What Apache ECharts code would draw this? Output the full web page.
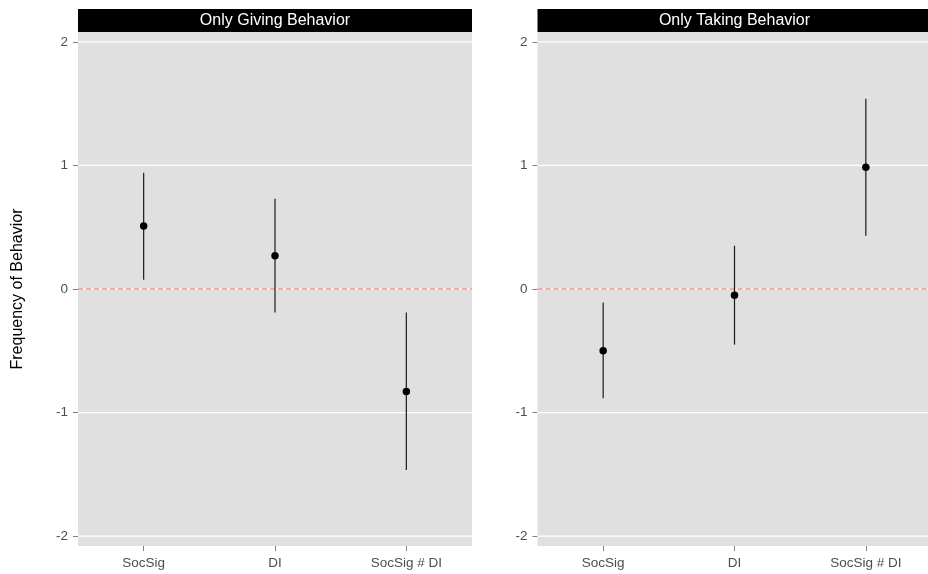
<!DOCTYPE html>
<html><head><meta charset="utf-8">
<script src="https://cdn.jsdelivr.net/npm/echarts@6/dist/echarts.min.js"></script>
<style>html,body{margin:0;padding:0;background:#fff;overflow:hidden}#c{width:932px;height:574px}</style>
</head><body><div id="c"></div>
<script>
const categories = ['SocSig', 'DI', 'SocSig # DI'];
const panels = ['Only Giving Behavior', 'Only Taking Behavior'];
const givingEst = [0.51, 0.27, -0.83];
const givingLow = [0.075, -0.19, -1.465];
const givingHigh = [0.94, 0.73, -0.19];
const takingEst = [-0.50, -0.05, 0.985];
const takingLow = [-0.885, -0.45, 0.43];
const takingHigh = [-0.11, 0.35, 1.54];
const yTicks = [-2, -1, 0, 1, 2];
const refLine = [0];

const font = '"Liberation Sans", Arial, Helvetica, sans-serif';
const chart = echarts.init(document.getElementById('c'), null, {renderer: 'canvas'});

const grids = [
  {left: 78, top: 32, width: 394, height: 514},
  {left: 537.5, top: 32, width: 394, height: 514}
];

function xAxis(i) {
  return {
    type: 'category', gridIndex: i, data: categories, boundaryGap: true,
    axisLine: {show: false, onZero: false},
    axisTick: {show: true, alignWithLabel: true, length: 5, lineStyle: {color: '#7f7f7f'}},
    axisLabel: {color: '#4d4d4d', fontSize: 13.5, fontFamily: font, margin: 10},
    splitLine: {show: false}
  };
}
function yAxis(i) {
  return {
    type: 'value', gridIndex: i, min: -2.08, max: 2.08,
    axisLine: {show: false},
    axisTick: {show: true, length: 5, lineStyle: {color: '#7f7f7f'}, customValues: yTicks},
    axisLabel: {color: '#4d4d4d', fontSize: 13.5, fontFamily: font, margin: 10,
      customValues: yTicks, formatter: v => String(v)},
    splitLine: {show: false},
    name: i === 0 ? 'Frequency of Behavior' : '',
    nameLocation: 'middle', nameGap: 52, nameRotate: 90,
    nameTextStyle: {color: '#000', fontSize: 16, fontFamily: font}
  };
}

function hLines(i, values, style, z) {
  return {
    type: 'custom', xAxisIndex: i, yAxisIndex: i, silent: true,
    data: values.map(v => [0, v]),
    renderItem: function (params, api) {
      const cs = params.coordSys;
      const p = api.coord([0, api.value(1)]);
      return {type: 'line', shape: {x1: cs.x, y1: p[1], x2: cs.x + cs.width, y2: p[1]},
        style: style};
    },
    z: z
  };
}
function errorBars(i, low, high) {
  return {
    type: 'custom', xAxisIndex: i, yAxisIndex: i,
    data: categories.map((c, k) => [k, low[k], high[k]]),
    renderItem: function (params, api) {
      const p1 = api.coord([api.value(0), api.value(1)]);
      const p2 = api.coord([api.value(0), api.value(2)]);
      return {type: 'line', shape: {x1: p1[0], y1: p1[1], x2: p2[0], y2: p2[1]},
        style: {stroke: '#1a1a1a', lineWidth: 1.2}};
    },
    z: 5
  };
}
function points(i, est) {
  return {
    type: 'scatter', xAxisIndex: i, yAxisIndex: i,
    data: categories.map((c, k) => [k, est[k]]),
    symbol: 'circle', symbolSize: 7.5,
    itemStyle: {color: '#000', opacity: 1},
    z: 6
  };
}

const option = {
  backgroundColor: '#ffffff',
  animation: false,
  grid: grids.map(g => Object.assign({backgroundColor: '#e0e0e0', show: true, borderWidth: 0}, g)),
  xAxis: [xAxis(0), xAxis(1)],
  yAxis: [yAxis(0), yAxis(1)],
  graphic: panels.map((t, i) => ({
    type: 'group', left: grids[i].left, top: 9,
    children: [
      {type: 'rect', shape: {x: 0, y: 0, width: 394, height: 23}, style: {fill: '#000'}},
      {type: 'text', x: 197, y: 11.5, style: {text: t, fill: '#fff', font: '16px ' + font,
        textAlign: 'center', textVerticalAlign: 'middle'}}
    ]
  })),
  series: [
    hLines(0, yTicks, {stroke: '#ffffff', lineWidth: 1.2}, 1),
    hLines(1, yTicks, {stroke: '#ffffff', lineWidth: 1.2}, 1),
    hLines(0, refLine, {stroke: '#f5aaa4', lineWidth: 2, lineDash: [5, 3]}, 2),
    hLines(1, refLine, {stroke: '#f5aaa4', lineWidth: 2, lineDash: [5, 3]}, 2),
    errorBars(0, givingLow, givingHigh), errorBars(1, takingLow, takingHigh),
    points(0, givingEst), points(1, takingEst)
  ]
};
chart.setOption(option);
</script>
</body></html>
